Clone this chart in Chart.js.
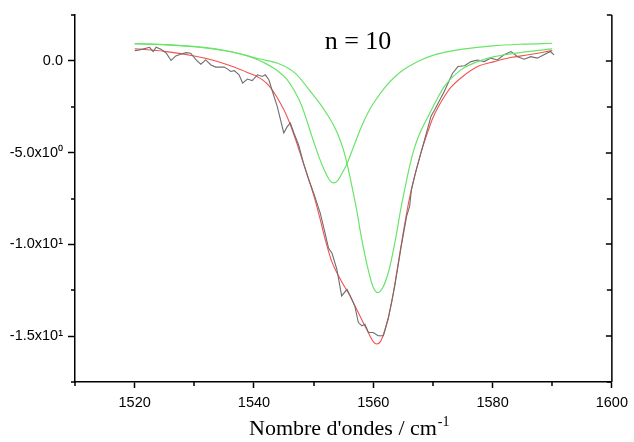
<!DOCTYPE html>
<html><head><meta charset="utf-8">
<script src="https://cdn.jsdelivr.net/npm/chart.js@4/dist/chart.umd.min.js"></script>
<style>html,body{margin:0;padding:0;background:#fff}</style>
</head><body>
<canvas id="c" width="634" height="442"></canvas>
<script>
// ---- data ----
const measuredX = [1520.0,1520.8,1521.9,1522.5,1523.1,1523.6,1524.4,1525.3,1526.1,1526.9,1527.8,1528.6,1529.4,1530.3,1531.1,1531.9,1532.8,1533.6,1535.0,1535.6,1536.1,1536.7,1537.5,1538.1,1538.9,1539.7,1540.6,1541.4,1541.9,1542.5,1543.1,1543.9,1545.0,1545.6,1546.1,1546.7,1547.5,1548.3,1549.2,1550.0,1551.1,1551.9,1552.5,1553.1,1553.9,1554.7,1555.6,1556.4,1556.9,1557.5,1558.1,1558.6,1559.2,1560.0,1560.8,1561.7,1562.5,1563.6,1564.7,1565.6,1566.1,1566.4,1567.0,1568.6,1569.7,1570.3,1571.9,1573.3,1574.2,1575.3,1576.4,1577.5,1578.6,1579.7,1580.8,1581.9,1583.1,1584.2,1585.3,1586.4,1587.5,1588.6,1589.7,1590.3];
const measuredY = [0.56,0.60,0.69,0.74,0.51,0.74,0.63,0.42,0.02,0.27,0.38,0.45,0.42,0.05,-0.18,0.05,-0.22,-0.34,-0.34,-0.45,-0.58,-0.53,-0.76,-1.21,-0.99,-1.07,-0.76,-0.85,-0.76,-1.03,-1.67,-2.48,-3.93,-3.57,-3.39,-3.93,-4.60,-5.56,-6.47,-7.19,-8.28,-9.36,-10.20,-10.50,-11.36,-12.81,-12.45,-12.99,-13.35,-14.26,-14.44,-14.35,-14.80,-14.80,-14.98,-14.98,-14.08,-12.27,-10.09,-8.46,-7.92,-7.01,-6.20,-4.29,-3.00,-2.66,-1.67,-0.67,-0.31,-0.27,-0.04,0.05,-0.04,0.15,0.05,0.33,0.51,0.23,0.09,0.23,0.15,0.33,0.51,0.33];

const fitX = [1520,1525,1530,1533,1536.4,1539.2,1540.5,1541.5,1542.5,1543.6,1544.5,1545.3,1546,1547,1548,1549,1550,1551,1552,1553,1554,1555,1556,1557,1558,1559,1560,1560.6,1561.2,1562,1563,1564,1565,1566,1567,1568,1569,1570,1571,1572,1573,1575,1577.5,1580.3,1583,1586,1590];
const fitY = [0.66,0.52,0.27,0.05,-0.31,-0.67,-0.85,-1.05,-1.35,-1.85,-2.35,-2.85,-3.40,-4.30,-5.30,-6.30,-7.30,-8.50,-9.80,-10.90,-11.60,-12.20,-12.75,-13.40,-14.05,-14.70,-15.30,-15.43,-15.30,-14.60,-13.30,-11.40,-9.40,-7.60,-6.20,-5.00,-4.00,-3.10,-2.45,-1.90,-1.45,-0.85,-0.31,-0.04,0.18,0.33,0.56];

const band1X = [1520,1524,1528,1532,1535,1537.5,1540,1542,1544,1545.5,1546.9,1548,1548.6,1549.7,1550.8,1552,1552.8,1553.4,1554.1,1554.8,1555.6,1556.8,1558,1559.4,1560.8,1562.2,1563.6,1565,1566.4,1568,1570,1572.5,1575,1580,1585,1590];
const band1Y = [0.94,0.90,0.83,0.72,0.58,0.40,0.14,-0.15,-0.55,-1.00,-1.70,-2.45,-3.00,-4.10,-5.15,-6.10,-6.55,-6.65,-6.50,-6.10,-5.60,-4.60,-3.60,-2.65,-1.95,-1.35,-0.88,-0.50,-0.22,0.05,0.30,0.50,0.64,0.82,0.91,0.96];

const band2X = [1520,1525,1530,1535,1538,1541,1544,1546.9,1549.7,1551,1552.5,1553.5,1554.2,1555,1555.6,1556.4,1557.2,1558,1559.2,1560,1560.8,1561.6,1562.6,1563.8,1564.6,1565.4,1566.2,1566.8,1567.6,1568.3,1569.2,1570.5,1571.9,1574.7,1577.5,1580.3,1585.8,1590];
const band2Y = [0.94,0.88,0.77,0.55,0.35,0.10,-0.13,-0.67,-1.76,-2.30,-3.03,-3.60,-4.11,-4.85,-5.60,-6.80,-8.10,-9.60,-11.45,-12.35,-12.63,-12.35,-11.45,-9.60,-8.10,-6.80,-5.60,-4.85,-4.11,-3.60,-3.03,-2.20,-1.40,-0.49,-0.04,0.23,0.50,0.65];

const xTickValues = [1520,1540,1560,1580,1600];
const xMinorValues = [1510,1530,1550,1570,1590];
const yTickValues = [0,-5,-10,-15];
const yTickLabels = ['0.0','-5.0x10\u2070','-1.0x10\u00B9','-1.5x10\u00B9'];
const yMinorValues = [2.5,-2.5,-7.5,-12.5,-17.5];
const titleText = 'n = 10';
const xTitleMain = "Nombre d'ondes / cm";
const xTitleSup = '-1';

const pts = (xs, ys) => xs.map((x, i) => ({x, y: ys[i]}));

const decor = {
  id: 'decor',
  afterDraw(chart) {
    const ctx = chart.ctx, a = chart.chartArea;
    const xs = chart.scales.x, ys = chart.scales.y;
    ctx.save();
    ctx.strokeStyle = '#000';
    ctx.lineWidth = 1.5;
    ctx.beginPath();
    xMinorValues.forEach(v => { const p = Math.round(xs.getPixelForValue(v)); ctx.moveTo(p, a.bottom); ctx.lineTo(p, a.bottom + 4); });
    yMinorValues.forEach(v => { const p = Math.round(ys.getPixelForValue(v)); ctx.moveTo(a.left - 4, p); ctx.lineTo(a.left, p); });
    // right axis
    ctx.moveTo(a.right, a.top); ctx.lineTo(a.right, a.bottom);
    yTickValues.forEach(v => { const p = Math.round(ys.getPixelForValue(v)); ctx.moveTo(a.right - 6, p); ctx.lineTo(a.right, p); });
    yMinorValues.forEach(v => { const p = Math.round(ys.getPixelForValue(v)); ctx.moveTo(a.right - 5, p); ctx.lineTo(a.right, p); });
    ctx.stroke();
    // texts
    ctx.fillStyle = '#000';
    ctx.textBaseline = 'alphabetic';
    ctx.font = '26px "Liberation Serif", serif';
    ctx.textAlign = 'center';
    ctx.fillText(titleText, 358, 49);
    ctx.textAlign = 'left';
    ctx.font = '22px "Liberation Serif", serif';
    const x0 = 249, y0 = 435;
    ctx.fillText(xTitleMain, x0, y0);
    const w = ctx.measureText(xTitleMain).width;
    ctx.font = '14px "Liberation Serif", serif';
    ctx.fillText(xTitleSup, x0 + w + 1, y0 - 9);
    ctx.restore();
  }
};

const tickFont = {family: '"Liberation Sans", Arial, sans-serif', size: 14.5};

new Chart(document.getElementById('c'), {
  type: 'scatter',
  data: {
    datasets: [
      {data: pts(band1X, band1Y), showLine: true, borderColor: 'rgb(105,228,105)', borderWidth: 1.2, pointRadius: 0, cubicInterpolationMode: 'monotone'},
      {data: pts(band2X, band2Y), showLine: true, borderColor: 'rgb(105,228,105)', borderWidth: 1.2, pointRadius: 0, cubicInterpolationMode: 'monotone'},
      {data: pts(measuredX, measuredY), showLine: true, borderColor: 'rgb(110,110,110)', borderWidth: 1.1, pointRadius: 0, tension: 0},
      {data: pts(fitX, fitY), showLine: true, borderColor: 'rgb(245,80,80)', borderWidth: 1.1, pointRadius: 0, cubicInterpolationMode: 'monotone'}
    ]
  },
  options: {
    responsive: false,
    animation: false,
    devicePixelRatio: 1,
    layout: {padding: {top: 15, right: 18, left: 0, bottom: 0}},
    plugins: {legend: {display: false}, tooltip: {enabled: false}},
    scales: {
      x: {
        type: 'linear', min: 1510, max: 1600,
        afterBuildTicks: s => { s.ticks = xTickValues.map(v => ({value: v})); },
        afterFit: s => { s.height = 60; },
        ticks: {font: tickFont, color: '#000', padding: 6, maxRotation: 0, autoSkip: false, callback: v => String(v)},
        grid: {drawOnChartArea: false, tickLength: 6, tickWidth: 1.5, tickColor: '#000'},
        border: {color: '#000', width: 1.5}
      },
      y: {
        type: 'linear', min: -17.5, max: 2.5,
        afterBuildTicks: s => { s.ticks = yTickValues.map(v => ({value: v})); },
        afterFit: s => { s.width = 75; },
        ticks: {font: tickFont, color: '#000', padding: 5, autoSkip: false, callback: v => { const i = yTickValues.indexOf(v); return i >= 0 ? yTickLabels[i] : ''; }},
        grid: {drawOnChartArea: false, tickLength: 7, tickWidth: 1.5, tickColor: '#000'},
        border: {color: '#000', width: 1.5}
      }
    }
  },
  plugins: [decor]
});
</script>
</body></html>
